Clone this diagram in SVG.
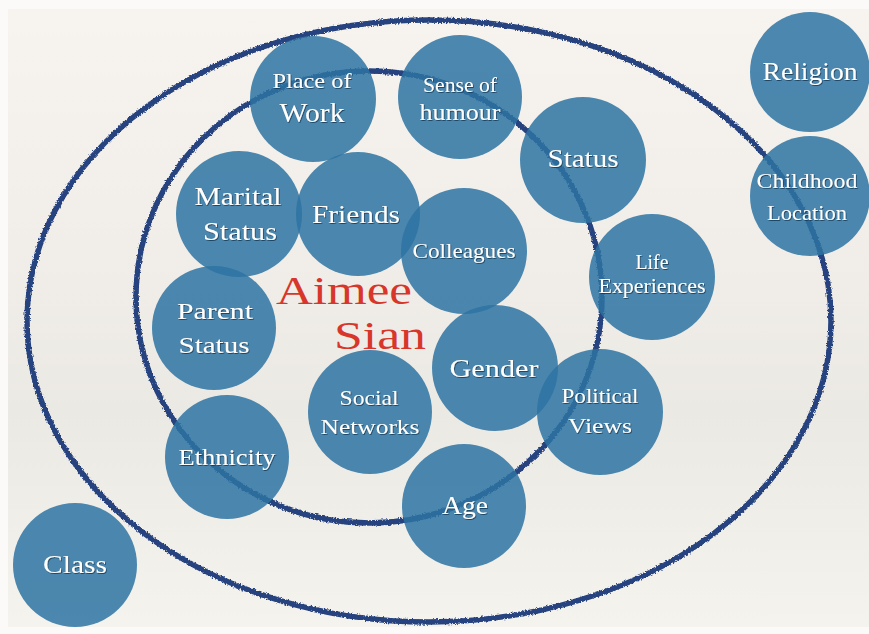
<svg xmlns="http://www.w3.org/2000/svg" width="869" height="634" viewBox="0 0 869 634">
<defs>
<linearGradient id="bg" x1="0" y1="0" x2="0" y2="1">
<stop offset="0" stop-color="#f7f4ef"/>
<stop offset="0.45" stop-color="#f0ede8"/>
<stop offset="0.65" stop-color="#ebe9e4"/>
<stop offset="1" stop-color="#f5f3ee"/>
</linearGradient>
<filter id="rough" x="-5%" y="-5%" width="110%" height="110%">
<feTurbulence type="fractalNoise" baseFrequency="0.6" numOctaves="2" seed="3" result="n"/>
<feDisplacementMap in="SourceGraphic" in2="n" scale="3.5" xChannelSelector="R" yChannelSelector="G"/>
</filter>
<filter id="shadow" x="-10%" y="-20%" width="120%" height="150%">
<feDropShadow dx="0.8" dy="1" stdDeviation="0.6" flood-color="#14304a" flood-opacity="0.75"/>
</filter>
<style>
.ring{fill:none;stroke:#26437f;stroke-width:5.5}
.node circle{fill:#2d73a2;fill-opacity:0.85}
.node text{fill:#ffffff;font-family:"Liberation Serif","DejaVu Serif",serif;filter:url(#shadow)}
.name{fill:#d8362a;font-family:"Liberation Serif","DejaVu Serif",serif;font-size:40px}
</style>
</defs>
<rect width="869" height="634" fill="#fbfaf8"/>
<rect x="8" y="9" width="861" height="618" fill="url(#bg)"/>
<g id="connectors" filter="url(#rough)">
<ellipse class="ring" cx="429" cy="321" rx="402" ry="301"/>
<ellipse class="ring" cx="369" cy="297" rx="233" ry="226"/>
</g>
<g id="place-of-work" class="node"><circle cx="313" cy="99" r="63"/>
<text x="272.5" y="88" font-size="21" textLength="79" lengthAdjust="spacingAndGlyphs">Place of</text>
<text x="279.5" y="122" font-size="27" textLength="65" lengthAdjust="spacingAndGlyphs">Work</text></g>
<g id="sense-of-humour" class="node"><circle cx="460" cy="97" r="62"/>
<text x="423" y="92" font-size="20" textLength="74" lengthAdjust="spacingAndGlyphs">Sense of</text>
<text x="419.5" y="120" font-size="24" textLength="81" lengthAdjust="spacingAndGlyphs">humour</text></g>
<g id="status" class="node"><circle cx="583" cy="160" r="63"/>
<text x="547.5" y="167" font-size="25" textLength="71" lengthAdjust="spacingAndGlyphs">Status</text></g>
<g id="religion" class="node"><circle cx="810" cy="72" r="60"/>
<text x="762.5" y="80" font-size="25" textLength="95" lengthAdjust="spacingAndGlyphs">Religion</text></g>
<g id="childhood-location" class="node"><circle cx="810" cy="196" r="60"/>
<text x="756.5" y="188" font-size="21" textLength="101" lengthAdjust="spacingAndGlyphs">Childhood</text>
<text x="767" y="220" font-size="21" textLength="80" lengthAdjust="spacingAndGlyphs">Location</text></g>
<g id="marital-status" class="node"><circle cx="239" cy="214" r="63"/>
<text x="194.5" y="205" font-size="25" textLength="87" lengthAdjust="spacingAndGlyphs">Marital</text>
<text x="203" y="240" font-size="25" textLength="74" lengthAdjust="spacingAndGlyphs">Status</text></g>
<g id="friends" class="node"><circle cx="358" cy="214" r="62"/>
<text x="312" y="223" font-size="26" textLength="88" lengthAdjust="spacingAndGlyphs">Friends</text></g>
<g id="colleagues" class="node"><circle cx="464" cy="251" r="63"/>
<text x="412.5" y="258" font-size="21" textLength="103" lengthAdjust="spacingAndGlyphs">Colleagues</text></g>
<g id="life-experiences" class="node"><circle cx="652" cy="277" r="63"/>
<text x="635.5" y="269" font-size="20" textLength="33" lengthAdjust="spacingAndGlyphs">Life</text>
<text x="598.5" y="293" font-size="20" textLength="107" lengthAdjust="spacingAndGlyphs">Experiences</text></g>
<g id="parent-status" class="node"><circle cx="214" cy="328" r="62"/>
<text x="177" y="319" font-size="24" textLength="76" lengthAdjust="spacingAndGlyphs">Parent</text>
<text x="178.5" y="353" font-size="24" textLength="71" lengthAdjust="spacingAndGlyphs">Status</text></g>
<g id="gender" class="node"><circle cx="495" cy="368" r="63"/>
<text x="449.5" y="377" font-size="26" textLength="89" lengthAdjust="spacingAndGlyphs">Gender</text></g>
<g id="social-networks" class="node"><circle cx="370" cy="412" r="62"/>
<text x="339.5" y="405" font-size="22" textLength="59" lengthAdjust="spacingAndGlyphs">Social</text>
<text x="320.5" y="434" font-size="22" textLength="99" lengthAdjust="spacingAndGlyphs">Networks</text></g>
<g id="political-views" class="node"><circle cx="600" cy="412" r="63"/>
<text x="561.5" y="403" font-size="21" textLength="77" lengthAdjust="spacingAndGlyphs">Political</text>
<text x="568" y="433" font-size="22" textLength="64" lengthAdjust="spacingAndGlyphs">Views</text></g>
<g id="ethnicity" class="node"><circle cx="227" cy="457" r="62"/>
<text x="178.5" y="465" font-size="23" textLength="97" lengthAdjust="spacingAndGlyphs">Ethnicity</text></g>
<g id="age" class="node"><circle cx="464" cy="506" r="62"/>
<text x="442" y="514" font-size="25" textLength="46" lengthAdjust="spacingAndGlyphs">Age</text></g>
<g id="class" class="node"><circle cx="75" cy="565" r="62"/>
<text x="43" y="573" font-size="26" textLength="64" lengthAdjust="spacingAndGlyphs">Class</text></g>
<g id="aimee-sian">
<text class="name" x="276" y="304" textLength="136" lengthAdjust="spacingAndGlyphs">Aimee</text>
<text class="name" x="334" y="349" textLength="92" lengthAdjust="spacingAndGlyphs">Sian</text>
</g>
</svg>
